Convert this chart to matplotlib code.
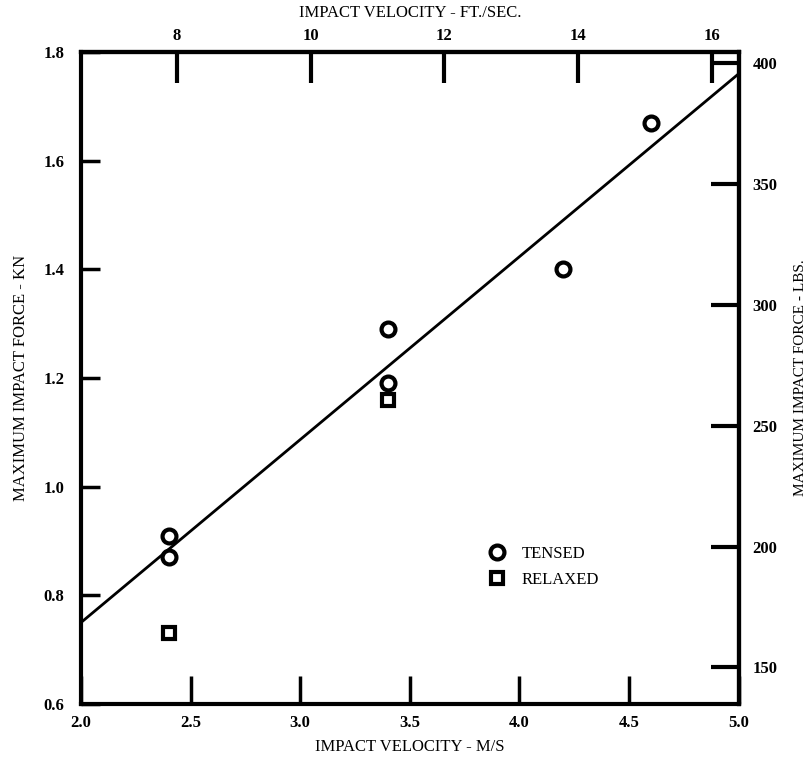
import matplotlib
matplotlib.use("Agg")
import matplotlib.pyplot as plt

# Measured impact forces (kN) against impact velocity (m/s)
tensed_v = [2.4, 2.4, 3.4, 3.4, 4.2, 4.6]
tensed_f = [0.91, 0.87, 1.29, 1.19, 1.40, 1.67]
relaxed_v = [2.4, 3.4]
relaxed_f = [0.73, 1.16]

# Straight-line fit through the data
fit_v = [2.0, 5.0]
fit_f = [0.75, 1.76]

# Tick values for each scale
x_ticks = [2.0, 2.5, 3.0, 3.5, 4.0, 4.5, 5.0]
y_ticks = [0.6, 0.8, 1.0, 1.2, 1.4, 1.6, 1.8]
ft_ticks = [8, 10, 12, 14, 16]
lb_ticks = [150, 200, 250, 300, 350, 400]

MS_TO_FTS = 3.28084
KN_TO_LB = 224.809

plt.rcParams['font.family'] = ['Liberation Serif', 'DejaVu Serif']

fig = plt.figure(figsize=(8.1, 7.58), dpi=100)
ax = fig.add_axes([0.1, 0.0712, 0.812, 0.8602])

ax.plot(fit_v, fit_f, color='black', lw=2.0, zorder=2)
ax.plot(tensed_v, tensed_f, ls='none', marker='o', ms=10, mfc='white',
        mec='black', mew=3.0, zorder=3, label='TENSED')
ax.plot(relaxed_v, relaxed_f, ls='none', marker='s', ms=8.5, mfc='white',
        mec='black', mew=3.0, zorder=3, label='RELAXED')

ax.set_xlim(2.0, 5.0)
ax.set_ylim(0.6, 1.8)
ax.set_xticks(x_ticks)
ax.set_yticks(y_ticks)
ax.set_xticklabels([f"{v:.1f}" for v in x_ticks])
ax.set_yticklabels([f"{v:.1f}" for v in y_ticks])

for s in ax.spines.values():
    s.set_linewidth(3)

ax.tick_params(axis='x', direction='in', length=20, width=2.5, pad=8,
               labelsize=12)
ax.tick_params(axis='y', direction='in', length=14, width=2.5, pad=12,
               labelsize=12)
for lab in ax.get_xticklabels() + ax.get_yticklabels():
    lab.set_fontweight('bold')

ax.set_xlabel('IMPACT VELOCITY - M/S', fontsize=12, labelpad=6)
ax.set_ylabel('MAXIMUM IMPACT FORCE - KN', fontsize=12, labelpad=10)

# Secondary scales in imperial units
top = ax.secondary_xaxis('top', functions=(lambda v: v * MS_TO_FTS,
                                           lambda v: v / MS_TO_FTS))
top.set_xticks(ft_ticks)
top.set_xticklabels([str(v) for v in ft_ticks])
top.tick_params(direction='in', length=22, width=3, pad=6, labelsize=12)
top.spines['top'].set_linewidth(3)
top.set_xlabel('IMPACT VELOCITY - FT./SEC.', fontsize=12, labelpad=8)
for lab in top.get_xticklabels():
    lab.set_fontweight('bold')

right = ax.secondary_yaxis('right', functions=(lambda f: f * KN_TO_LB,
                                               lambda f: f / KN_TO_LB))
right.set_yticks(lb_ticks)
right.set_yticklabels([str(v) for v in lb_ticks])
right.tick_params(direction='in', length=20, width=3, pad=10, labelsize=12)
right.spines['right'].set_linewidth(3)
right.set_ylabel('MAXIMUM IMPACT FORCE - LBS.', fontsize=11, labelpad=12)
for lab in right.get_yticklabels():
    lab.set_fontweight('bold')

leg = ax.legend(loc='upper left', bbox_to_anchor=(0.597, 0.265),
                frameon=False, fontsize=12, handletextpad=1.0,
                labelspacing=0.6, handlelength=1.0)

fig.savefig('out.png', dpi=100)
